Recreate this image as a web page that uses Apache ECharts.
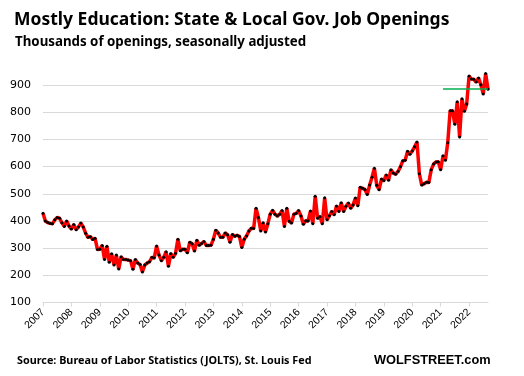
<!DOCTYPE html>
<html>
<head>
<meta charset="utf-8">
<script src="https://cdn.jsdelivr.net/npm/echarts@6/dist/echarts.min.js"></script>
<style>
  html, body { margin: 0; padding: 0; background: #fff; }
  #main { width: 524px; height: 376px; }
</style>
</head>
<body>
<div id="main"></div>
<script>
// monthly job openings, thousands, Jan 2007 - Sep 2022
var y2007 = [428, 400, 394, 391, 390, 404, 413, 410, 393, 380, 400, 381];
var y2008 = [370, 387, 368, 378, 392, 378, 355, 340, 342, 332, 336, 295];
var y2009 = [296, 310, 258, 307, 248, 279, 238, 275, 223, 268, 258, 258];
var y2010 = [256, 254, 222, 258, 245, 240, 212, 238, 245, 250, 266, 264];
var y2011 = [308, 275, 254, 266, 287, 233, 280, 266, 281, 333, 290, 296];
var y2012 = [296, 283, 322, 316, 289, 329, 311, 317, 324, 310, 310, 311];
var y2013 = [333, 366, 356, 340, 340, 356, 349, 322, 350, 344, 347, 343];
var y2014 = [302, 333, 345, 363, 373, 372, 447, 413, 363, 393, 359, 390];
var y2015 = [425, 439, 425, 418, 425, 438, 380, 447, 399, 392, 425, 428];
var y2016 = [438, 418, 388, 401, 400, 437, 390, 491, 410, 416, 390, 485];
var y2017 = [404, 419, 435, 423, 455, 435, 467, 435, 454, 466, 447, 459];
var y2018 = [484, 456, 524, 520, 516, 497, 532, 561, 594, 531, 515, 554];
var y2019 = [548, 569, 550, 588, 576, 572, 582, 599, 621, 623, 656, 645];
var y2020 = [657, 673, 690, 574, 532, 537, 542, 541, 588, 609, 617, 618];
var y2021 = [588, 640, 623, 688, 805, 805, 756, 838, 709, 849, 803, 830];
var y2022 = [933, 922, 921, 911, 926, 901, 867, 942, 884];

var firstYear = 2007;
var yTicks = [100, 200, 300, 400, 500, 600, 700, 800, 900];
var levelLine = 888;           // green reference level
var levelStart = '2021-02';

var openings = [].concat(y2007, y2008, y2009, y2010, y2011, y2012, y2013, y2014,
    y2015, y2016, y2017, y2018, y2019, y2020, y2021, y2022);

var months = [];
for (var i = 0; i < openings.length; i++) {
    var yr = firstYear + Math.floor(i / 12);
    var m = (i % 12) + 1;
    months.push(yr + '-' + (m < 10 ? '0' + m : m));
}

var myChart = echarts.init(document.getElementById('main'));

var option = {
    animation: false,
    backgroundColor: '#fff',
    title: [{
        text: 'Mostly Education: State & Local Gov. Job Openings',
        left: 9, top: 6,
        textStyle: { fontFamily: 'Noto Sans', fontWeight: 'bold', fontSize: 17.5, color: '#000' }
    }, {
        text: 'Thousands of openings, seasonally adjusted',
        left: 10, top: 31,
        textStyle: { fontFamily: 'Noto Sans', fontWeight: 'bold', fontSize: 13.3, color: '#000' }
    }, {
        text: 'Source: Bureau of Labor Statistics (JOLTS), St. Louis Fed',
        left: 12, top: 350,
        textStyle: { fontFamily: 'Noto Sans', fontWeight: 'bold', fontSize: 10.8, color: '#000' }
    }, {
        text: 'WOLFSTREET.com',
        left: 369, top: 349,
        textStyle: { fontFamily: 'Liberation Sans', fontWeight: 'bold', fontSize: 12.8, color: '#000' }
    }],
    grid: {
        left: 43, right: 36, top: 85, bottom: 73.5
    },
    xAxis: {
        type: 'category',
        data: months,
        boundaryGap: false,
        axisLine: { lineStyle: { color: '#d9d9d9', width: 1 } },
        axisTick: {
            show: true, length: 4,
            lineStyle: { color: '#d9d9d9' }
        },
        axisLabel: {
            interval: function (idx) { return idx % 12 === 0; },
            formatter: function (v) { return v.slice(0, 4); },
            rotate: 45,
            fontSize: 10.5, color: '#000'
        },
        splitLine: { show: false }
    },
    yAxis: {
        type: 'value',
        min: yTicks[0],
        max: yTicks[yTicks.length - 1],
        interval: 100,
        axisLine: { show: false },
        axisTick: { show: false },
        axisLabel: {
            margin: 12,
            fontFamily: 'DejaVu Sans', fontSize: 11, color: '#000'
        },
        splitLine: { lineStyle: { color: '#d9d9d9', width: 1 } }
    },
    series: [{
        name: 'Job openings',
        type: 'line',
        data: openings,
        clip: false,
        symbol: 'circle',
        symbolSize: 3,
        showAllSymbol: true,
        itemStyle: { color: '#000' },
        lineStyle: { color: '#ff0000', width: 3.5 },
        z: 3,
        markLine: {
            silent: true,
            symbol: 'none',
            label: { show: false },
            lineStyle: { color: '#00b050', width: 1.5, type: 'solid' },
            data: [[
                { coord: [levelStart, levelLine] },
                { coord: [months[months.length - 1], levelLine] }
            ]]
        }
    }]
};

myChart.setOption(option);
</script>
</body>
</html>
